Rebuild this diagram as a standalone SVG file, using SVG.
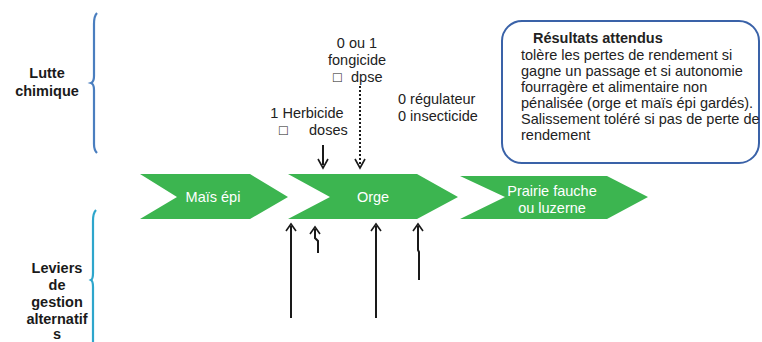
<svg xmlns="http://www.w3.org/2000/svg" width="762" height="342" viewBox="0 0 762 342">
<defs>
<style>
text{font-family:"Liberation Sans",Arial,sans-serif;font-size:14.5px;fill:#222}
.lbl{font-weight:bold;text-anchor:middle;fill:#1a1a1a}
.chev{fill:#3cb550}
.ct{fill:#fff;text-anchor:middle}
.mid{text-anchor:middle}
.arr{stroke:#1a1a1a;stroke-width:2;fill:none}
.head{stroke:#1a1a1a;stroke-width:1.6;fill:none}
</style>
</defs>
<rect width="762" height="342" fill="#fff"/>
<g id="brace-top">
<path d="M97,13 Q94,16 94,24 L94,76 Q94,82 91,83 Q94,84 94,90 L94,144 Q94,150 97,153" fill="none" stroke="#4a7ebf" stroke-width="2.2"/>
</g>
<g id="brace-bottom">
<path d="M96,210 Q93,213 93,221 L93,273 Q93,279 91,280 Q93,281 93,287 L93,342" fill="none" stroke="#2ea6cc" stroke-width="2.2"/>
</g>
<g id="label-lutte">
<text class="lbl" x="47" y="78">Lutte</text>
<text class="lbl" x="47" y="96">chimique</text>
</g>
<g id="label-leviers">
<text class="lbl" x="57" y="273">Leviers</text>
<text class="lbl" x="57" y="290">de</text>
<text class="lbl" x="57" y="307">gestion</text>
<text class="lbl" x="57" y="324">alternatif</text>
<text class="lbl" x="57" y="339">s</text>
</g>
<g id="node-mais">
<polygon class="chev" points="140,174 250,174 288,197 250,219 140,219 177,197"/>
<text class="ct" x="213" y="202">Maïs épi</text>
</g>
<g id="node-orge">
<polygon class="chev" points="288,174 417,174 458,197 417,219 288,219 330,197"/>
<text class="ct" x="373" y="202">Orge</text>
</g>
<g id="node-prairie">
<polygon class="chev" points="460,176 607,176 648,197 607,219 460,219 505,197"/>
<text class="ct" x="552" y="196">Prairie fauche</text>
<text class="ct" x="552" y="213">ou luzerne</text>
</g>
<g id="node-herbicide">
<text class="mid" x="307" y="118">1 Herbicide</text>
<text x="279" y="135">□</text>
<text x="309" y="135">doses</text>
</g>
<g id="node-fongicide">
<text class="mid" x="357" y="48">0 ou 1</text>
<text class="mid" x="357" y="65">fongicide</text>
<text x="333" y="82">□</text>
<text x="351" y="82">dpse</text>
</g>
<g id="node-regulateur">
<text x="398" y="104">0 régulateur</text>
<text x="398" y="121">0 insecticide</text>
</g>
<g id="node-resultats">
<rect x="502" y="21" width="257" height="142" rx="20" ry="20" fill="#fff" stroke="#3a62a8" stroke-width="2"/>
<text x="533" y="43" style="font-weight:bold">Résultats attendus</text>
<text x="521" y="60">tolère les pertes de rendement si</text>
<text x="521" y="76">gagne un passage et si autonomie</text>
<text x="521" y="92">fourragère et alimentaire non</text>
<text x="521" y="108">pénalisée (orge et maïs épi gardés).</text>
<text x="521" y="124">Salissement toléré si pas de perte de</text>
<text x="521" y="140">rendement</text>
</g>
<g id="connectors">
<line class="arr" x1="323" y1="145" x2="323" y2="165"/>
<polyline class="head" points="318,159 323,168 328,159"/>
<line x1="360" y1="86" x2="360" y2="165" stroke="#1a1a1a" stroke-width="2" stroke-dasharray="2,2"/>
<polyline class="head" points="355,159 360,168 365,159"/>
<line class="arr" x1="291" y1="318" x2="291" y2="226"/>
<polyline class="head" points="286,231 291,224 296,231"/>
<polyline class="arr" points="315,229 315,238 318,241 318,253"/>
<polyline class="head" points="310,234 315,227 320,234"/>
<line class="arr" x1="376" y1="318" x2="376" y2="226"/>
<polyline class="head" points="371,231 376,224 381,231"/>
<polyline class="arr" points="418,226 418,250 419,252 419,280"/>
<polyline class="head" points="413,231 418,224 423,231"/>
</g>
</svg>
